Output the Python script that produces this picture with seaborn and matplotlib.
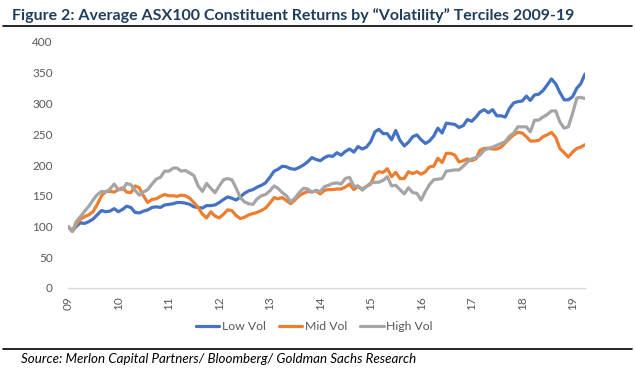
import pandas as pd
import matplotlib.pyplot as plt
import matplotlib.dates as mdates
from matplotlib.lines import Line2D
import seaborn as sns

# Monthly index levels (Jan 2009 = 100)
low_vol = [
    100, 93, 100, 106, 105, 108, 112, 119, 126, 124, 125, 129,
    124, 128, 133, 131, 123, 122, 125, 127, 131, 132, 131, 135,
    136, 137, 139, 139, 138, 136, 132, 131, 130, 134, 134, 135,
    139, 144, 148, 146, 143, 148, 154, 158, 160, 164, 167, 171,
    180, 190, 193, 198, 197, 194, 193, 196, 200, 205, 212, 209,
    207, 212, 215, 214, 220, 216, 222, 226, 221, 230, 226, 229,
    238, 254, 258, 251, 251, 241, 256, 240, 231, 237, 246, 249,
    241, 235, 239, 247, 260, 252, 268, 267, 266, 261, 264, 274,
    271, 278, 286, 290, 285, 290, 280, 280, 278, 292, 301, 303,
    304, 312, 305, 314, 315, 321, 330, 340, 332, 318, 306, 306,
    311, 325, 332, 348,
]
mid_vol = [
    100, 92, 103, 112, 116, 119, 124, 136, 150, 157, 157, 156,
    160, 163, 156, 155, 166, 163, 150, 139, 144, 145, 149, 152,
    150, 150, 149, 151, 150, 146, 139, 131, 120, 114, 124, 117,
    114, 120, 127, 126, 118, 113, 115, 119, 121, 123, 126, 130,
    138, 147, 145, 147, 142, 137, 143, 150, 154, 157, 156, 158,
    153, 159, 160, 160, 161, 161, 164, 169, 160, 165, 161, 165,
    169, 185, 189, 188, 194, 181, 188, 178, 178, 189, 186, 189,
    185, 189, 197, 198, 211, 204, 219, 219, 216, 205, 207, 210,
    207, 210, 224, 227, 227, 226, 226, 229, 236, 243, 249, 253,
    252, 246, 239, 239, 240, 246, 249, 253, 245, 227, 220, 213,
    221, 227, 229, 233,
]
high_vol = [
    100, 92, 108, 116, 125, 133, 143, 152, 157, 156, 161, 169,
    160, 160, 170, 168, 159, 151, 156, 160, 169, 177, 180, 190,
    190, 195, 195, 190, 191, 187, 183, 166, 157, 170, 162, 155,
    166, 176, 178, 176, 163, 147, 140, 137, 136, 145, 150, 152,
    158, 166, 162, 155, 150, 140, 146, 155, 162, 161, 156, 159,
    157, 165, 167, 170, 171, 169, 178, 180, 165, 166, 159, 165,
    171, 172, 172, 175, 181, 166, 167, 160, 153, 163, 155, 154,
    143, 157, 168, 176, 177, 178, 190, 191, 192, 192, 198, 205,
    210, 212, 216, 224, 227, 229, 232, 235, 238, 247, 252, 262,
    262, 262, 254, 273, 273, 278, 282, 288, 288, 270, 260, 262,
    284, 309, 310, 308,
]
series_names = ["Low Vol", "Mid Vol", "High Vol"]
colors = ["#4472C4", "#ED7D31", "#A5A5A5"]
year_labels = ["09", "10", "11", "12", "13", "14", "15", "16", "17", "18", "19"]

title = "Figure 2: Average ASX100 Constituent Returns by \u201cVolatility\u201d Terciles 2009-19"
source = "Source: Merlon Capital Partners/ Bloomberg/ Goldman Sachs Research"

sns.set_theme(style="white")
plt.rcParams["font.family"] = ["Lato", "DejaVu Sans"]


def main():
    dates = pd.date_range("2009-01-01", periods=len(low_vol), freq="MS")
    df = pd.DataFrame({"Date": dates, "Low Vol": low_vol,
                       "Mid Vol": mid_vol, "High Vol": high_vol})
    long_df = df.melt(id_vars="Date", var_name="Series", value_name="Return")

    fig = plt.figure(figsize=(6.35, 3.7), dpi=100)
    ax = fig.add_axes([68 / 635, 1 - 288 / 370, (585 - 68) / 635, (288 - 42) / 370])

    sns.lineplot(data=long_df, x="Date", y="Return", hue="Series",
                 hue_order=series_names, palette=colors, linewidth=2.3,
                 ax=ax, legend=False)

    ax.set_xlim(dates[0], dates[-1])
    ax.set_ylim(0, 400)
    ax.set_yticks(range(0, 401, 50))
    ax.xaxis.set_major_locator(mdates.YearLocator())
    ax.set_xticks(pd.date_range("2009-01-01", periods=len(year_labels), freq="YS"))
    ax.set_xticklabels(year_labels, rotation=90)
    ax.set_xlabel("")
    ax.set_ylabel("")
    ax.tick_params(axis="both", length=0, labelsize=8.5, labelcolor="#595959")
    ax.tick_params(axis="y", pad=11)
    ax.tick_params(axis="x", pad=6)

    for side in ["top", "right", "left"]:
        ax.spines[side].set_visible(False)
    ax.spines["bottom"].set_color("#D9D9D9")
    ax.spines["bottom"].set_linewidth(1)
    ax.grid(False)

    handles = [Line2D([0], [0], color=c, lw=2.3) for c in colors]
    fig.legend(handles, series_names, loc="center", ncol=3,
               bbox_to_anchor=(0.495, 1 - 327 / 370), frameon=False,
               fontsize=8.8, handlelength=1.9, handletextpad=0.2,
               columnspacing=1.1, labelcolor="#595959")

    # Header and footer
    fig.text(12 / 635, 1 - 20 / 370, title, fontsize=11.5, fontweight="bold",
             color="#1F3D5C", ha="left", va="baseline")
    fig.add_artist(Line2D([3 / 635, 632 / 635], [1 - 26 / 370] * 2,
                          color="black", lw=1.2))
    fig.add_artist(Line2D([3 / 635, 632 / 635], [1 - 349 / 370] * 2,
                          color="black", lw=1.2))
    fig.text(21 / 635, 1 - 363 / 370, source, fontsize=9.6, style="italic",
             color="black", ha="left", va="baseline")

    fig.savefig("out.png", dpi=100)


if __name__ == "__main__":
    main()
